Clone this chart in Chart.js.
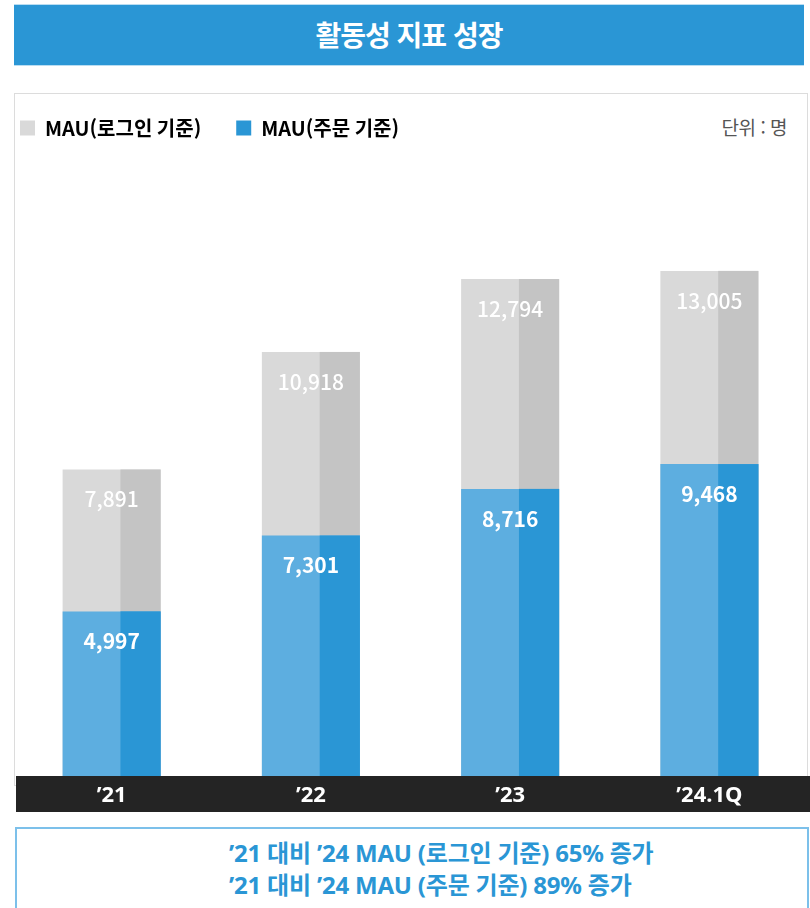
<!DOCTYPE html>
<html lang="ko">
<head>
<meta charset="utf-8">
<script src="https://cdn.jsdelivr.net/npm/chart.js@4.4.1/dist/chart.umd.min.js"></script>
<style>
  body { margin: 0; width: 810px; height: 908px; position: relative; background: #fff; overflow: hidden;
         font-family: "Noto Sans CJK KR", "Noto Sans", sans-serif; }
  .title { position: absolute; left: 14px; top: 4px; width: 790px; height: 62px; background: #2a96d5;
           border-top: 1px solid #b9ddf2; border-bottom: 1px solid #b9ddf2; box-sizing: border-box;
           color: #fff; font-weight: 700; font-size: 28px; text-align: center; line-height: 58px; letter-spacing: -1px; }
  .box { position: absolute; left: 14px; top: 93px; width: 794px; height: 693px; border: 1.5px solid #dcdcdc; box-sizing: border-box; }
  .unit { position: absolute; right: 23px; top: 113px; font-size: 19px; color: #555; letter-spacing: -0.5px; }
  .wrap { position: absolute; left: 12px; top: 100px; width: 798px; height: 712px; }
  .note { position: absolute; left: 15px; top: 827px; width: 794px; height: 100px; border: 2px solid #7cc0ea; box-sizing: border-box;
          font-family: "Noto Sans", "Noto Sans CJK KR", sans-serif;
          color: #2a96d5; font-weight: 700; font-size: 24px; line-height: 32px; padding: 8px 0 0 212px; letter-spacing: -0.2px; }
</style>
</head>
<body>
<div class="title">활동성 지표 성장</div>
<div class="box"></div>
<div class="unit">단위 : 명</div>
<div class="wrap"><canvas id="mauChart" width="798" height="712"></canvas></div>
<div class="note">’21 대비 ’24 MAU (로그인 기준) 65% 증가<br>’21 대비 ’24 MAU (주문 기준) 89% 증가</div>

<script>
// 데이터
const years = ["’21", "’22", "’23", "’24.1Q"];
const mauLogin = [7891, 10918, 12794, 13005];
const mauOrder = [4997, 7301, 8716, 9468];

const FONT = '"Noto Sans CJK KR", "Noto Sans", sans-serif';
const LATIN = '"Noto Sans", "Noto Sans CJK KR", sans-serif';
const grayLight = '#d9d9d9', grayDark = '#c4c4c4';
const blueLight = '#5daee0', blueDark = '#2a96d5';

// 막대 오른쪽 부분을 진하게 칠함
const twoTone = {
    id: 'twoTone',
    afterDatasetDraw(chart, args) {
        const ctx = chart.ctx;
        const color = args.meta.yAxisID === 'y' ? grayDark : blueDark;
        ctx.save();
        ctx.fillStyle = color;
        args.meta.data.forEach(bar => {
            const left = bar.x - bar.width / 2;
            const split = left + bar.width * 0.59;
            ctx.fillRect(split, bar.y, bar.x + bar.width / 2 - split, bar.base - bar.y);
        });
        ctx.restore();
    }
};

// 막대 안 숫자 라벨
const valueLabels = {
    id: 'valueLabels',
    afterDatasetsDraw(chart) {
        const ctx = chart.ctx;
        ctx.save();
        ctx.fillStyle = '#fff';
        ctx.textAlign = 'center';
        ctx.textBaseline = 'middle';
        chart.data.datasets.forEach((ds, i) => {
            const meta = chart.getDatasetMeta(i);
            ctx.font = (ds.yAxisID === 'y' ? '500' : '700') + ' 21px ' + FONT;
            meta.data.forEach((bar, j) => {
                ctx.fillText(ds.data[j].toLocaleString('en-US'), bar.x, bar.y + 30);
            });
        });
        ctx.restore();
    }
};

// x축 검은 띠
const axisBand = {
    id: 'axisBand',
    beforeDraw(chart) {
        const xs = chart.scales.x;
        const ctx = chart.ctx;
        ctx.save();
        ctx.fillStyle = '#242424';
        ctx.fillRect(4, xs.top, chart.width - 4, xs.bottom - xs.top);
        ctx.restore();
    }
};

// 범례 높이/위치 고정
const legendPlace = {
    id: 'legendPlace',
    beforeInit(chart) {
        const fit = chart.legend.fit;
        chart.legend.fit = function () {
            fit.bind(chart.legend)();
            this.height = 60;
        };
    },
    afterLayout(chart) {
        chart.legend.left = -27;
        chart.legend.top = -17;
    }
};

new Chart(document.getElementById('mauChart'), {
    type: 'bar',
    data: {
        labels: years,
        datasets: [
            {
                label: 'MAU(로그인 기준)',
                data: mauLogin,
                backgroundColor: grayLight,
                yAxisID: 'y',
                order: 2
            },
            {
                label: 'MAU(주문 기준)',
                data: mauOrder,
                backgroundColor: blueLight,
                yAxisID: 'y2',
                order: 1
            }
        ]
    },
    options: {
        responsive: false,
        animation: false,
        layout: { padding: { left: 0, right: 1, top: 0, bottom: 0 } },
        datasets: { bar: { categoryPercentage: 1, barPercentage: 0.492, grouped: false } },
        plugins: {
            legend: {
                position: 'top',
                align: 'start',
                labels: {
                    boxWidth: 15,
                    boxHeight: 15,
                    padding: 35,
                    color: '#444',
                    font: { family: FONT, size: 20, weight: '700' },
                    sort: (a, b) => a.datasetIndex - b.datasetIndex,
                    generateLabels: chart => chart.data.datasets.map((ds, i) => ({
                        text: ds.label,
                        fillStyle: i === 0 ? grayLight : blueDark,
                        strokeStyle: i === 0 ? grayLight : blueDark,
                        lineWidth: 0,
                        datasetIndex: i
                    }))
                }
            },
            tooltip: { enabled: false }
        },
        scales: {
            x: {
                grid: { display: false },
                border: { display: false },
                ticks: { color: '#fff', padding: -1, font: { family: LATIN, size: 22, weight: '700' } },
                afterFit: s => { s.height = 36; }
            },
            y: { display: false, min: 0, max: 15860 },
            y2: { display: false, min: 0, max: 18700 }
        }
    },
    plugins: [axisBand, twoTone, valueLabels, legendPlace]
});
</script>
</body>
</html>
